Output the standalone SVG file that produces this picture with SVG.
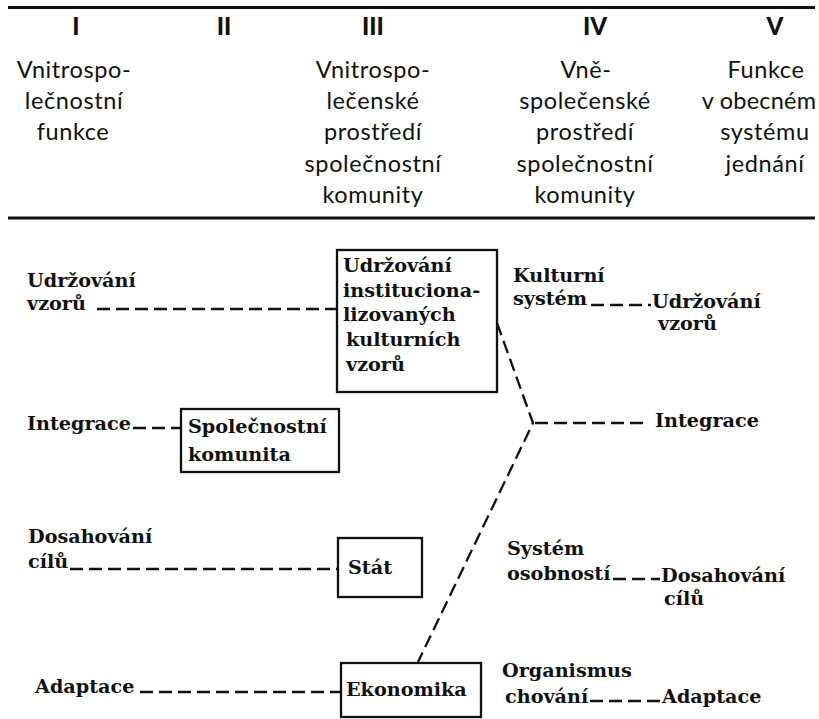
<svg xmlns="http://www.w3.org/2000/svg" width="819" height="719" viewBox="0 0 819 719">
<style>
.h{font-family:Lato,"Open Sans",sans-serif;font-size:23.5px;fill:#111;text-anchor:middle;letter-spacing:0.6px}
.n{font-family:Lato,sans-serif;font-weight:900;font-size:24px;fill:#111;text-anchor:middle}
.t{font-family:"DejaVu Serif",serif;font-weight:bold;font-size:19.2px;fill:#111}
.box{fill:#fff;stroke:#111;stroke-width:2.3}
.d{stroke:#111;stroke-width:2.3;stroke-dasharray:13 6;fill:none}
.rule{stroke:#111;stroke-width:2.8}
</style>
<rect width="819" height="719" fill="#fff"/>
<g id="header">
<rect x="8" y="6" width="807" height="3" fill="#111"/>
<line class="rule" x1="8" y1="218" x2="815" y2="218"/>
<text class="n" x="76" y="35">I</text>
<text class="n" x="224" y="35">II</text>
<text class="n" x="373" y="35">III</text>
<text class="n" x="595" y="35">IV</text>
<text class="n" x="775" y="35">V</text>
<text class="h" x="74" y="78">Vnitrospo-</text>
<text class="h" x="74" y="109">lečnostní</text>
<text class="h" x="73" y="140">funkce</text>
<text class="h" x="373" y="78">Vnitrospo-</text>
<text class="h" x="373" y="109">lečenské</text>
<text class="h" x="373" y="140">prostředí</text>
<text class="h" x="373" y="172">společnostní</text>
<text class="h" x="373" y="203">komunity</text>
<text class="h" x="586" y="78">Vně-</text>
<text class="h" x="585" y="109">společenské</text>
<text class="h" x="585" y="140">prostředí</text>
<text class="h" x="585" y="172">společnostní</text>
<text class="h" x="585" y="203">komunity</text>
<text class="h" x="766" y="78">Funkce</text>
<text class="h" x="759" y="109" style="letter-spacing:0.2px">v obecném</text>
<text class="h" x="765" y="140">systému</text>
<text class="h" x="765" y="172">jednání</text>
</g>
<g id="connectors">
<line class="d" x1="97" y1="309" x2="337" y2="309"/>
<line class="d" x1="133" y1="428" x2="181" y2="428"/>
<line class="d" x1="70" y1="569" x2="338" y2="569"/>
<line class="d" x1="140" y1="692" x2="341" y2="692"/>
<line class="d" x1="591" y1="305" x2="651" y2="305"/>
<polyline class="d" points="497,323 533,423 418,662"/>
<line class="d" x1="535" y1="423" x2="649" y2="423"/>
<line class="d" x1="613" y1="579" x2="660" y2="579"/>
<line class="d" x1="590" y1="701" x2="661" y2="701"/>
</g>
<g id="label-udrzovani-vzoru-I"><text class="t" x="27" y="287">Udržování</text><text class="t" x="27" y="310">vzorů</text></g>
<g id="label-integrace-I"><text class="t" x="27" y="430">Integrace</text></g>
<g id="label-dosahovani-I"><text class="t" x="28" y="543">Dosahování</text><text class="t" x="28" y="568">cílů</text></g>
<g id="label-adaptace-I"><text class="t" x="35" y="693">Adaptace</text></g>
<g id="node-udrzovani-vzoru">
<rect class="box" x="337" y="250" width="160" height="142"/>
<text class="t" x="343" y="272">Udržování</text>
<text class="t" x="343" y="297">instituciona-</text>
<text class="t" x="343" y="321">lizovaných</text>
<text class="t" x="346" y="346">kulturních</text>
<text class="t" x="346" y="371">vzorů</text>
</g>
<g id="node-spolecnostni-komunita">
<rect class="box" x="181" y="409" width="158" height="63"/>
<text class="t" x="188" y="433">Společnostní</text>
<text class="t" x="188" y="461">komunita</text>
</g>
<g id="node-stat">
<rect class="box" x="338" y="538" width="84" height="59"/>
<text class="t" x="348" y="574">Stát</text>
</g>
<g id="node-ekonomika">
<rect class="box" x="341" y="663" width="140" height="54"/>
<text class="t" x="346" y="696">Ekonomika</text>
</g>
<g id="label-kulturni-system"><text class="t" x="513" y="282">Kulturní</text><text class="t" x="513" y="305">systém</text></g>
<g id="label-udrzovani-vzoru-V"><text class="t" x="652" y="308">Udržování</text><text class="t" x="658" y="330">vzorů</text></g>
<g id="label-integrace-V"><text class="t" x="655" y="427">Integrace</text></g>
<g id="label-system-osobnosti"><text class="t" x="507" y="555">Systém</text><text class="t" x="507" y="580">osobností</text></g>
<g id="label-dosahovani-V"><text class="t" x="661" y="582">Dosahování</text><text class="t" x="664" y="605">cílů</text></g>
<g id="label-organismus-chovani"><text class="t" x="502" y="677">Organismus</text><text class="t" x="505" y="703">chování</text></g>
<g id="label-adaptace-V"><text class="t" x="662" y="703">Adaptace</text></g>
</svg>
